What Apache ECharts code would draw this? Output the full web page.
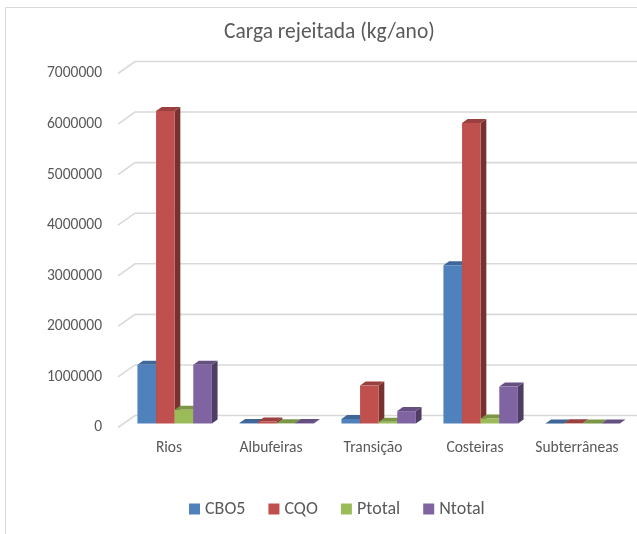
<!DOCTYPE html>
<html>
<head>
<meta charset="utf-8">
<script src="https://cdn.jsdelivr.net/npm/echarts@6/dist/echarts.min.js"></script>
<style>
  html, body { margin: 0; padding: 0; background: #fff; }
  #chart { width: 637px; height: 534px; }
</style>
</head>
<body>
<div id="chart"></div>
<script>
// Water body categories and pollutant loads (kg/ano)
const categories = ['Rios', 'Albufeiras', 'Transição', 'Costeiras', 'Subterrâneas'];
const seriesNames = ['CBO5', 'CQO', 'Ptotal', 'Ntotal'];
const cbo5   = [1160000, 12000,  90000, 3130000, 2000];
const cqo    = [6180000, 40000, 750000, 5940000, 4000];
const ptotal = [ 270000,  6000,  35000,  100000,  800];
const ntotal = [1160000, 10000, 245000,  730000, 1500];
const yTicks = [0, 1000000, 2000000, 3000000, 4000000, 5000000, 6000000, 7000000];

const seriesValues = [cbo5, cqo, ptotal, ntotal];
const colors = ['#4F81BD', '#C0504D', '#9BBB59', '#8064A2'];
const FONT = 'Carlito, Calibri, Lato, sans-serif';

// depth of the 3D box: back wall offset
const DEPTH_X = 17, DEPTH_Y = -12;
const GROUP_RATIO = 0.73;

function shade(hex, f) {
  const n = parseInt(hex.slice(1), 16);
  const r = Math.round(((n >> 16) & 255) * f);
  const g = Math.round(((n >> 8) & 255) * f);
  const b = Math.round((n & 255) * f);
  return 'rgb(' + r + ',' + g + ',' + b + ')';
}

// back wall gridlines with the short diagonal from the axis
function renderWall(params, api) {
  const cs = params.coordSys;
  const y = api.coord([0, api.value(1)])[1];
  return {
    type: 'polyline',
    shape: { points: [[cs.x, y], [cs.x + DEPTH_X, y + DEPTH_Y], [cs.x + cs.width + 60, y + DEPTH_Y]] },
    style: { stroke: '#d9d9d9', lineWidth: 1.6, fill: null },
    silent: true
  };
}

function makeBarRenderer(idx) {
  return function (params, api) {
    const cat = api.value(0);
    const top = api.coord([cat, api.value(1)]);
    const base = api.coord([cat, 0]);
    const band = api.size([1, 0])[0];
    const bw = band * GROUP_RATIO / 4;
    const ox = DEPTH_X / 3, oy = DEPTH_Y / 3;
    const x0 = top[0] - 2 * bw + idx * bw + ox;
    const x1 = x0 + bw;
    const yt = top[1] + oy;
    const yb = base[1] + oy;
    const c = colors[idx];
    return {
      type: 'group',
      children: [
        { type: 'polygon', shape: { points: [[x1, yt], [x1 + ox, yt + oy], [x1 + ox, yb + oy], [x1, yb]] },
          style: { fill: shade(c, 0.62) } },
        { type: 'polygon', shape: { points: [[x0, yt], [x0 + ox, yt + oy], [x1 + ox, yt + oy], [x1, yt]] },
          style: { fill: shade(c, 0.8) } },
        { type: 'rect', shape: { x: x0, y: yt, width: bw, height: yb - yt },
          style: { fill: c } }
      ]
    };
  };
}

const barSeries = seriesNames.map((name, i) => ({
  name: name,
  type: 'custom',
  renderItem: makeBarRenderer(i),
  itemStyle: { color: colors[i] },
  encode: { x: 0, y: 1 },
  data: seriesValues[i].map((v, k) => [k, v]),
  z: 3
}));

const chart = echarts.init(document.getElementById('chart'), null, { renderer: 'canvas' });
chart.setOption({
  animation: false,
  backgroundColor: '#ffffff',
  title: {
    text: 'Carga rejeitada (kg/ano)',
    left: 219,
    top: 17,
    textStyle: { fontFamily: FONT, fontSize: 21.5, fontWeight: 'normal', color: '#595959' }
  },
  graphic: [{
    type: 'rect',
    shape: { x: 5.5, y: 7.5, width: 700, height: 600 },
    style: { fill: null, stroke: '#d9d9d9', lineWidth: 1 },
    silent: true, z: -1
  }],
  legend: {
    data: seriesNames,
    bottom: 11,
    left: 184,
    icon: 'rect',
    itemWidth: 11,
    itemHeight: 11,
    itemGap: 23,
    textStyle: { fontFamily: FONT, fontSize: 18, color: '#595959' }
  },
  grid: { left: 118, top: 73.5, width: 510, height: 354, containLabel: false },
  xAxis: {
    type: 'category',
    data: categories,
    axisLine: { show: false },
    axisTick: { show: false },
    axisLabel: { interval: 0, fontFamily: FONT, fontSize: 15.5, color: '#595959', margin: 13 }
  },
  yAxis: {
    type: 'value',
    min: 0,
    max: 7000000,
    interval: 1000000,
    axisLine: { show: false },
    axisTick: { show: false },
    splitLine: { show: false },
    axisLabel: {
      fontFamily: FONT, fontSize: 15.5, color: '#595959', margin: 16,
      formatter: v => String(v)
    }
  },
  series: [{
    type: 'custom',
    renderItem: renderWall,
    encode: { x: 0, y: 1 },
    data: yTicks.map(t => [0, t]),
    silent: true,
    z: 1
  }].concat(barSeries)
});
</script>
</body>
</html>
